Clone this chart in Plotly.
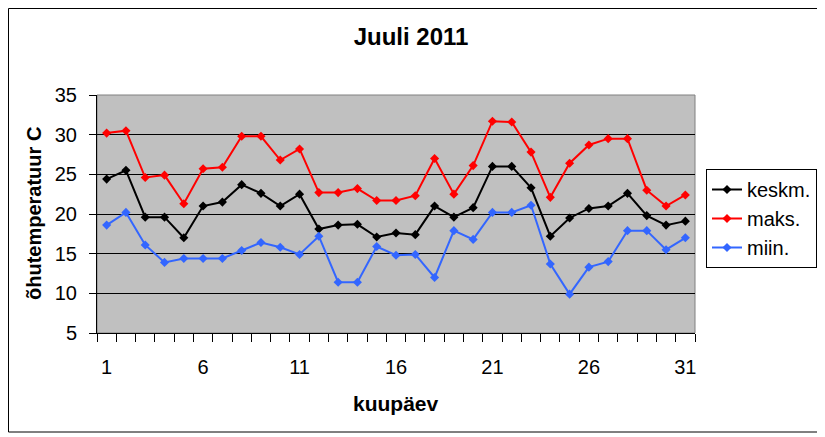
import plotly.graph_objects as go

# July 2011 air temperatures
days = list(range(1, 32))

keskm = [24.4, 25.5, 19.6, 19.6, 17.0, 21.0, 21.5, 23.7, 22.6, 21.0,
         22.5, 18.1, 18.6, 18.7, 17.1, 17.6, 17.4, 21.0, 19.6, 20.8,
         26.0, 26.0, 23.3, 17.2, 19.5, 20.7, 21.0, 22.6, 19.8, 18.6, 19.1]
maks = [30.2, 30.5, 24.6, 24.9, 21.3, 25.7, 25.9, 29.8, 29.8, 26.8,
        28.2, 22.7, 22.7, 23.2, 21.7, 21.7, 22.3, 27.0, 22.5, 26.1,
        31.7, 31.6, 27.8, 22.1, 26.4, 28.7, 29.5, 29.5, 23.0, 21.0, 22.4]
miin = [18.6, 20.2, 16.1, 13.9, 14.4, 14.4, 14.4, 15.4, 16.4, 15.8,
        14.9, 17.2, 11.4, 11.4, 15.9, 14.8, 14.9, 12.0, 17.9, 16.8,
        20.2, 20.2, 21.1, 13.7, 9.9, 13.3, 14.0, 17.9, 17.9, 15.5, 17.0]

x_labels = [1, 6, 11, 16, 21, 26, 31]
y_ticks = [5, 10, 15, 20, 25, 30, 35]

series = [
  ('keskm.', keskm, '#000000'),
  ('maks.', maks, '#FF0000'),
  ('miin.', miin, '#3366FF'),
]

fig = go.Figure()
for name, vals, col in series:
  fig.add_trace(
    go.Scatter(
      x=days, y=vals, name=name, mode='lines+markers',
      line=dict(color=col, width=2),
      marker=dict(symbol='diamond', size=7, color=col),
    )
  )

font = 'Arial, Liberation Sans, sans-serif'

# page body has an 8px margin, so the figure is 817x429 and sits at (8, 8)
W, H = 817, 429
PL, PR, PT, PB = 89, 687, 87, 325   # plot area in figure px
pw, ph = PR - PL, PB - PT

def px(fx):
  return (fx - PL) / pw

def py(fy):
  return (PB - fy) / ph

fig.update_layout(
  width=W, height=H,
  margin=dict(l=PL, r=W - PR, t=PT, b=H - PB, autoexpand=False),
  paper_bgcolor='white',
  plot_bgcolor='#C0C0C0',
  font=dict(family=font, size=20, color='black'),
  title=dict(text='<b>Juuli 2011</b>', x=403/W, xanchor='center',
             y=1 - 29/H, yanchor='middle', font=dict(size=24)),
  legend=dict(x=px(698), y=py(161), xanchor='left', yanchor='top',
              bordercolor='black', borderwidth=1, bgcolor='white',
              font=dict(size=20), itemwidth=30, tracegroupgap=0),
  showlegend=True,
)

fig.update_xaxes(
  range=[0.5, 31.5], tickvals=x_labels, ticktext=[str(v) for v in x_labels],
  ticks='outside', ticklen=16, tickcolor='rgba(0,0,0,0)',
  showgrid=False, zeroline=False,
  showline=True, linecolor='black', linewidth=1,
  minor=dict(tickvals=[d + 0.5 for d in range(0, 32)], ticks='outside',
             ticklen=8, tickcolor='black', showgrid=False),
)
fig.update_yaxes(
  range=[5, 35], tickvals=y_ticks,
  ticks='outside', ticklen=7, tickcolor='black', ticklabelstandoff=8,
  showgrid=True, gridcolor='black', gridwidth=1, zeroline=False,
  showline=True, linecolor='black', linewidth=1,
)

# plot area border (grey on top/right) and chart frame
fig.add_shape(type='rect', xref='paper', yref='paper', x0=0, x1=1, y0=0, y1=1,
              line=dict(color='#808080', width=1), layer='below')
fig.add_shape(type='rect', xref='paper', yref='paper',
              x0=px(0.5), x1=px(813), y0=py(424), y1=py(0.5),
              line=dict(color='black', width=1))

# axis titles
fig.add_annotation(text='<b>kuupäev</b>', xref='paper', yref='paper',
                   x=px(388), y=py(395), showarrow=False,
                   font=dict(size=21), xanchor='center', yanchor='middle')
fig.add_annotation(text='<b>õhutemperatuur C</b>', xref='paper', yref='paper',
                   x=px(26), y=py(206), showarrow=False, textangle=-90,
                   font=dict(size=20), xanchor='center', yanchor='middle')

fig.write_html('out.html')
